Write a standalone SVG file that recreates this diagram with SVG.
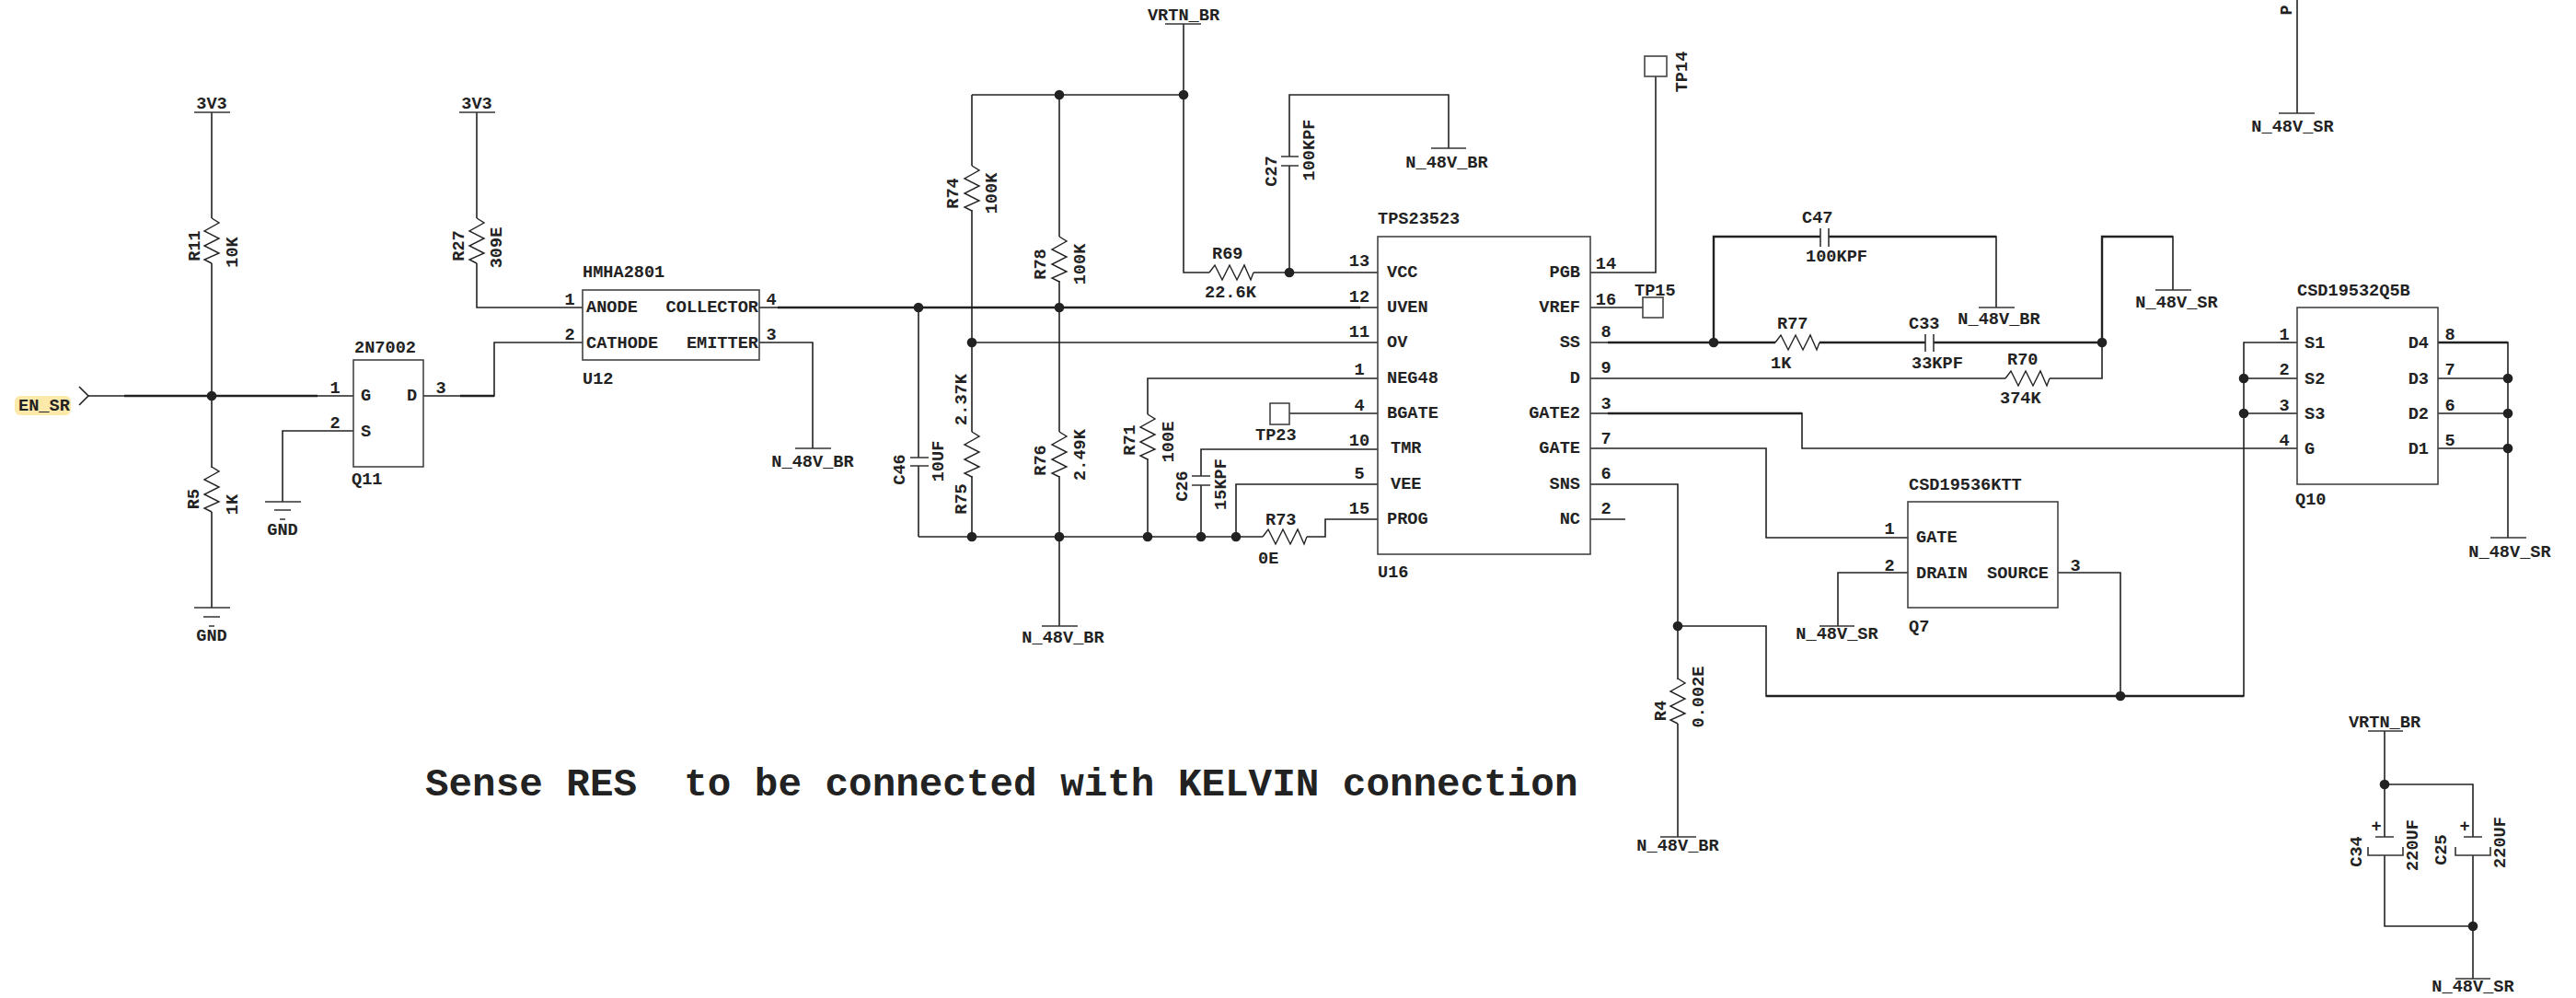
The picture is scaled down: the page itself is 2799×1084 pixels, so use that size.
<svg xmlns="http://www.w3.org/2000/svg" width="2799" height="1084" viewBox="0 0 2799 1084">
<style>
text{font-family:"Liberation Mono","DejaVu Sans Mono",monospace;font-weight:bold;font-size:18.6px;fill:#222}
.m{text-anchor:middle}.e{text-anchor:end}
.w{fill:none;stroke:#222;stroke-width:1.6}
.t{fill:none;stroke:#222;stroke-width:2.4}
.b{fill:#fff;stroke:#444;stroke-width:1.6}
.s{fill:none;stroke:#333;stroke-width:1.6}
.big{font-size:42.6px}
</style>
<defs>
<path id="rv" d="M0 0L8 5L-8 14L8 22L-8 30L8 38L-8 45L0 49" fill="none" stroke="#222" stroke-width="1.4"/>
<path id="rh" d="M0 0L6 -8L14 8L22 -8L30 8L38 -8L45 8L48 0" fill="none" stroke="#222" stroke-width="1.4"/>
<circle id="dot" r="5.3" fill="#222"/>
</defs>
<rect width="2799" height="1084" fill="#fff"/>
<g id="connectors">
<path class="t" d="M135 430H345M500 430H537M845 334H1478M1747 372H1929M1977 372H2092M2101 372H2284M1862 372V257H1978M1987 257H2169M2284 372V257H2361M1747 449H1958M2649 372H2725M1919 756H2438"/>
<path class="w" d="M96 430H384M230 122V237M230 286V508M230 556V660M384 468H307V545M460 430H537V372H633M518 122V237M518 286V334H633M825 334H1497M825 372H883V487"/>
<path class="w" d="M1286 26V296H1314M1056 103H1286M1056 103V180M1056 228V469M1056 517V583M1151 103V257M1151 305V469M1151 517V680M998 334V497M998 506V583M998 583H1372M1420 583H1440V564H1497M1056 372H1497M1497 411H1247V450M1247 498V583M1401 449H1497M1497 488H1305V517M1305 527V583M1497 526H1343V583M1362 296H1497M1401 296V180M1401 170V103H1574V161"/>
<path class="w" d="M1728 296H1799V82M1728 334H1785M1728 372H1929M1862 372V257H1978M1987 257H2169V334M1728 411H2179M2227 411H2284V257H2361V315M1728 449H1958V487H2496M1728 487H1919V584H2073M1728 526H1823V738M1823 786V909M1823 680H1919V756H2438V372H2496M2304 756V622H2236M2073 622H1997V680M1728 564H1766M2438 411H2496M2438 449H2496M2649 372H2725V584M2649 411H2725M2649 449H2725M2649 487H2725M2496 0V123M2591 794V909M2591 929V1006H2687M2591 852H2687V909M2687 929V1063"/>
<g id="junctions">
<use href="#dot" x="230" y="430"/><use href="#dot" x="998" y="334"/><use href="#dot" x="1151" y="334"/><use href="#dot" x="1286" y="103"/><use href="#dot" x="1151" y="103"/><use href="#dot" x="1056" y="372"/><use href="#dot" x="1401" y="296"/><use href="#dot" x="1056" y="583"/><use href="#dot" x="1151" y="583"/><use href="#dot" x="1247" y="583"/><use href="#dot" x="1305" y="583"/><use href="#dot" x="1343" y="583"/><use href="#dot" x="1862" y="372"/><use href="#dot" x="2284" y="372"/><use href="#dot" x="1823" y="680"/><use href="#dot" x="2304" y="756"/><use href="#dot" x="2438" y="411"/><use href="#dot" x="2438" y="449"/><use href="#dot" x="2725" y="411"/><use href="#dot" x="2725" y="449"/><use href="#dot" x="2725" y="487"/><use href="#dot" x="2591" y="852"/><use href="#dot" x="2687" y="1006"/>
</g>
</g>
<g id="EN_SR"><rect x="16" y="430" width="61" height="21" rx="6" fill="#fde9a9"/><path class="w" d="M86 420L96 430L86 440"/><text x="20" y="446">EN_SR</text></g>
<g id="P3V3a"><path class="s" d="M211 122H250"/><text class="m" x="230" y="118">3V3</text></g>
<g id="P3V3b"><path class="s" d="M499 122H538"/><text class="m" x="518" y="118">3V3</text></g>
<g id="R11"><use href="#rv" x="230" y="237"/><text class="m" transform="translate(217 267) rotate(-90)">R11</text><text class="m" transform="translate(258 274) rotate(-90)">10K</text></g>
<g id="R5"><use href="#rv" x="230" y="507"/><text class="m" transform="translate(216 542) rotate(-90)">R5</text><text class="m" transform="translate(258 548) rotate(-90)">1K</text></g>
<g id="GND1"><path class="s" d="M211 660H250M221 670H239M227 680H233"/><text class="m" x="230" y="696">GND</text></g>
<g id="GND2"><path class="s" d="M288 545H327M298 554H316M304 564H310"/><text class="m" x="307" y="581">GND</text></g>
<g id="Q11"><rect class="b" x="384" y="391" width="76" height="116"/><text x="385" y="383">2N7002</text><text x="382" y="526">Q11</text><text class="m" x="364" y="427">1</text><text class="m" x="364" y="465">2</text><text class="m" x="479" y="427">3</text><text x="392" y="435">G</text><text x="392" y="474">S</text><text x="442" y="435">D</text></g>
<g id="R27"><use href="#rv" x="518" y="237"/><text class="m" transform="translate(504 267) rotate(-90)">R27</text><text class="m" transform="translate(545 269) rotate(-90)">309E</text></g>
<g id="U12"><rect class="b" x="633" y="315" width="192" height="76"/><text x="633" y="301">HMHA2801</text><text x="633" y="417">U12</text><text class="m" x="619" y="331">1</text><text class="m" x="619" y="369">2</text><text class="m" x="838" y="331">4</text><text class="m" x="838" y="369">3</text><text x="637" y="339">ANODE</text><text x="637" y="378">CATHODE</text><text class="e" x="824" y="339">COLLECTOR</text><text class="e" x="824" y="378">EMITTER</text></g>
<g id="NBR1"><path class="s" d="M864 487H903"/><text class="m" x="883" y="507">N_48V_BR</text></g>
<g id="VRTN1"><path class="s" d="M1266 26H1305"/><text class="m" x="1286" y="22">VRTN_BR</text></g>
<g id="R74"><use href="#rv" x="1056" y="180"/><text class="m" transform="translate(1041 210) rotate(-90)">R74</text><text class="m" transform="translate(1083 210) rotate(-90)">100K</text></g>
<g id="R78"><use href="#rv" x="1151" y="257"/><text class="m" transform="translate(1136 287) rotate(-90)">R78</text><text class="m" transform="translate(1179 287) rotate(-90)">100K</text></g>
<g id="R75"><use href="#rv" x="1056" y="469"/><text class="m" transform="translate(1050 542) rotate(-90)">R75</text><text class="m" transform="translate(1050 434) rotate(-90)">2.37K</text></g>
<g id="R76"><use href="#rv" x="1151" y="469"/><text class="m" transform="translate(1136 500) rotate(-90)">R76</text><text class="m" transform="translate(1179 494) rotate(-90)">2.49K</text></g>
<g id="C46"><path class="s" d="M989 497H1009M989 506H1009"/><text class="m" transform="translate(983 510) rotate(-90)">C46</text><text class="m" transform="translate(1025 501) rotate(-90)">10UF</text></g>
<g id="R71"><use href="#rv" x="1247" y="450"/><text class="m" transform="translate(1233 478) rotate(-90)">R71</text><text class="m" transform="translate(1275 480) rotate(-90)">100E</text></g>
<g id="NBR2"><path class="s" d="M1132 680H1171"/><text class="m" x="1155" y="698">N_48V_BR</text></g>
<g id="TP23"><rect class="b" x="1380" y="438" width="21" height="23"/><text x="1364" y="478">TP23</text></g>
<g id="C26"><path class="s" d="M1295 517H1315M1295 527H1315"/><text class="m" transform="translate(1290 528) rotate(-90)">C26</text><text class="m" transform="translate(1332 526) rotate(-90)">15KPF</text></g>
<g id="R73"><use href="#rh" x="1372" y="583"/><text x="1375" y="570">R73</text><text x="1367" y="612">0E</text></g>
<g id="R69"><use href="#rh" x="1314" y="296"/><text x="1317" y="281">R69</text><text x="1309" y="323">22.6K</text></g>
<g id="C27"><path class="s" d="M1392 170H1411M1392 180H1411"/><text class="m" transform="translate(1387 186) rotate(-90)">C27</text><text class="m" transform="translate(1428 163) rotate(-90)">100KPF</text></g>
<g id="NBR3"><path class="s" d="M1555 161H1593"/><text class="m" x="1572" y="182">N_48V_BR</text></g>
<g id="U16"><rect class="b" x="1497" y="257" width="231" height="345"/><text x="1497" y="243">TPS23523</text><text x="1497" y="627">U16</text>
<text class="m" x="1477" y="289">13</text><text class="m" x="1477" y="328">12</text><text class="m" x="1477" y="366">11</text><text class="m" x="1477" y="407">1</text><text class="m" x="1477" y="446">4</text><text class="m" x="1477" y="484">10</text><text class="m" x="1477" y="520">5</text><text class="m" x="1477" y="558">15</text><text class="m" x="1745" y="292">14</text><text class="m" x="1745" y="331">16</text><text class="m" x="1745" y="366">8</text><text class="m" x="1745" y="405">9</text><text class="m" x="1745" y="444">3</text><text class="m" x="1745" y="482">7</text><text class="m" x="1745" y="520">6</text><text class="m" x="1745" y="558">2</text>
<text x="1507" y="301">VCC</text><text x="1507" y="339">UVEN</text><text x="1507" y="377">OV</text><text x="1507" y="416">NEG48</text><text x="1507" y="454">BGATE</text><text x="1511" y="492">TMR</text><text x="1511" y="531">VEE</text><text x="1507" y="569">PROG</text>
<text class="e" x="1717" y="301">PGB</text><text class="e" x="1717" y="339">VREF</text><text class="e" x="1717" y="377">SS</text><text class="e" x="1717" y="416">D</text><text class="e" x="1717" y="454">GATE2</text><text class="e" x="1717" y="492">GATE</text><text class="e" x="1717" y="531">SNS</text><text class="e" x="1717" y="569">NC</text></g>
<g id="TP14"><rect class="b" x="1787" y="61" width="24" height="22"/><text class="m" transform="translate(1833 78) rotate(-90)">TP14</text></g>
<g id="TP15"><rect class="b" x="1785" y="323" width="22" height="22"/><text x="1776" y="321">TP15</text></g>
<g id="C47"><path class="s" d="M1978 248V268M1987 248V268"/><text x="1958" y="242">C47</text><text x="1962" y="284">100KPF</text></g>
<g id="NBR4"><path class="s" d="M2150 334H2189"/><text class="m" x="2172" y="352">N_48V_BR</text></g>
<g id="R77"><use href="#rh" x="1929" y="372"/><text x="1931" y="357">R77</text><text x="1924" y="400">1K</text></g>
<g id="C33"><path class="s" d="M2092 363V382M2101 363V382"/><text x="2074" y="357">C33</text><text x="2077" y="400">33KPF</text></g>
<g id="R70"><use href="#rh" x="2179" y="411"/><text x="2181" y="396">R70</text><text x="2173" y="438">374K</text></g>
<g id="NSR1"><path class="s" d="M2342 315H2381"/><text class="m" x="2365" y="334">N_48V_SR</text></g>
<g id="NSR2"><path class="s" d="M2476 123H2515"/><text class="m" x="2491" y="143">N_48V_SR</text><text class="m" transform="translate(2490 11) rotate(-90)">P</text></g>
<g id="Q10"><rect class="b" x="2496" y="334" width="153" height="192"/><text x="2496" y="321">CSD19532Q5B</text><text x="2494" y="548">Q10</text><text class="m" x="2482" y="369">1</text><text class="m" x="2482" y="407">2</text><text class="m" x="2482" y="446">3</text><text class="m" x="2482" y="484">4</text><text class="m" x="2662" y="369">8</text><text class="m" x="2662" y="407">7</text><text class="m" x="2662" y="446">6</text><text class="m" x="2662" y="484">5</text><text x="2504" y="378">S1</text><text x="2504" y="417">S2</text><text x="2504" y="455">S3</text><text x="2504" y="493">G</text><text class="e" x="2639" y="378">D4</text><text class="e" x="2639" y="417">D3</text><text class="e" x="2639" y="455">D2</text><text class="e" x="2639" y="493">D1</text></g>
<g id="NSR3"><path class="s" d="M2706 584H2745"/><text class="m" x="2727" y="605">N_48V_SR</text></g>
<g id="Q7"><rect class="b" x="2073" y="545" width="163" height="115"/><text x="2074" y="532">CSD19536KTT</text><text x="2074" y="686">Q7</text><text class="m" x="2053" y="580">1</text><text class="m" x="2053" y="620">2</text><text class="m" x="2255" y="620">3</text><text x="2082" y="589">GATE</text><text x="2082" y="628">DRAIN</text><text class="e" x="2226" y="628">SOURCE</text></g>
<g id="NSR4"><path class="s" d="M1977 680H2015"/><text class="m" x="1996" y="694">N_48V_SR</text></g>
<g id="R4"><use href="#rv" x="1823" y="737"/><text class="m" transform="translate(1810 772) rotate(-90)">R4</text><text class="m" transform="translate(1851 757) rotate(-90)">0.002E</text></g>
<g id="NBR5"><path class="s" d="M1804 909H1843"/><text class="m" x="1823" y="924">N_48V_BR</text></g>
<g id="VRTN2"><path class="s" d="M2573 794H2611"/><text class="m" x="2591" y="790">VRTN_BR</text></g>
<g id="C34"><path class="s" d="M2581 909H2601M2573 920V929H2611V920"/><text class="m" x="2582" y="903">+</text><text class="m" transform="translate(2566 925) rotate(-90)">C34</text><text class="m" transform="translate(2627 918) rotate(-90)">220UF</text></g>
<g id="C25"><path class="s" d="M2677 909H2697M2668 920V929H2706V920"/><text class="m" x="2678" y="903">+</text><text class="m" transform="translate(2658 923) rotate(-90)">C25</text><text class="m" transform="translate(2722 915) rotate(-90)">220UF</text></g>
<g id="NSR5"><path class="s" d="M2668 1063H2706"/><text class="m" x="2687" y="1077">N_48V_SR</text></g>
<text class="big" x="462" y="864" xml:space="preserve">Sense RES  to be connected with KELVIN connection</text>
</svg>
